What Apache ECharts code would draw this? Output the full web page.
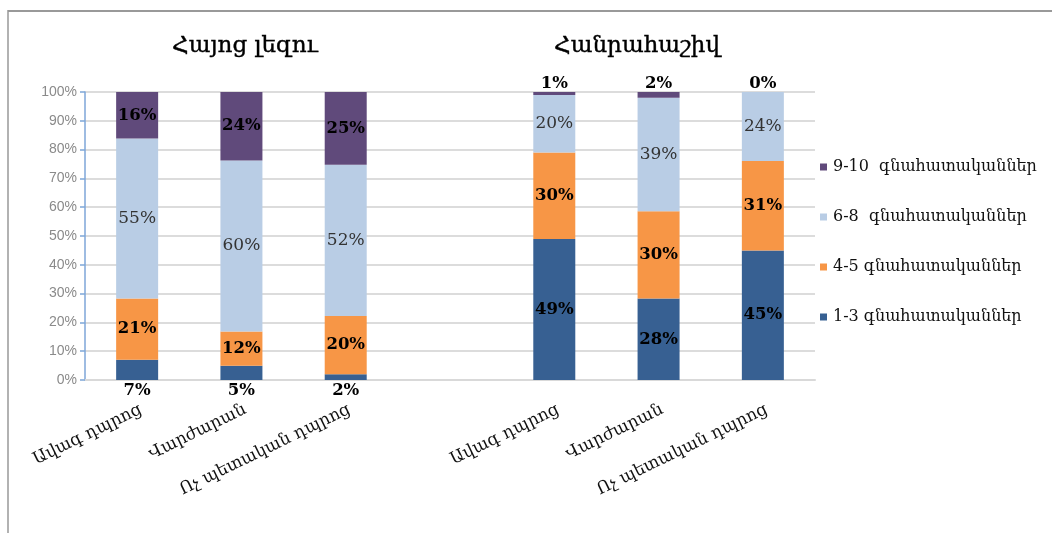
<!DOCTYPE html>
<html>
<head>
<meta charset="utf-8">
<script src="https://cdn.jsdelivr.net/npm/echarts@6/dist/echarts.min.js"></script>
<style>
html,body{margin:0;padding:0;background:#fff;}
#chart{width:1052px;height:533px;}
</style>
</head>
<body>
<div id="chart"></div>
<script>
const categories = ['Ավագ դպրոց', 'Վարժարան', 'Ոչ պետական դպրոց'];
const panelTitles = ['Հայոց լեզու', 'Հանրահաշիվ'];
const gradeNames = ['1-3 գնահատականներ', '4-5 գնահատականներ', '6-8  գնահատականներ', '9-10  գնահատականներ'];

// Հայոց լեզու (percent labels as shown)
const langGrade1to3 = [7, 5, 2];
const langGrade4to5 = [21, 12, 20];
const langGrade6to8 = [55, 60, 52];
const langGrade9to10 = [16, 24, 25];

// Հանրահաշիվ
const algGrade1to3 = [49, 28, 45];
const algGrade4to5 = [30, 30, 31];
const algGrade6to8 = [20, 39, 24];
const algGrade9to10 = [1, 2, 0];

const yTicks = [0, 10, 20, 30, 40, 50, 60, 70, 80, 90, 100];

const colors = ['#376092', '#F79646', '#B9CDE5', '#604A7B'];

const langSets = [langGrade1to3, langGrade4to5, langGrade6to8, langGrade9to10];
const algSets = [algGrade1to3, algGrade4to5, algGrade6to8, algGrade9to10];

function totals(sets) {
  return categories.map((_, i) => sets.reduce((s, a) => s + a[i], 0));
}
const langTot = totals(langSets);
const algTot = totals(algSets);

const xData = [...categories, '', ...categories];

const serif = 'DejaVu Serif';

const series = gradeNames.map((name, k) => {
  const data = [];
  langSets[k].forEach((v, i) => {
    const item = { value: v / langTot[i] * 100, raw: v };
    if (k === 0) item.label = { position: 'bottom', distance: 2 };
    data.push(item);
  });
  data.push(null);
  algSets[k].forEach((v, i) => {
    const item = { value: v / algTot[i] * 100, raw: v };
    if (k === 3) item.label = { position: 'top', distance: 0 };
    data.push(item);
  });
  const light = k === 2;
  return {
    name: name,
    type: 'bar',
    stack: 'total',
    barWidth: 42,
    itemStyle: { color: colors[k] },
    label: {
      show: true,
      position: 'inside',
      formatter: p => p.data.raw + '%',
      fontFamily: serif,
      fontSize: light ? 17 : 16.5,
      fontWeight: light ? 'normal' : 'bold',
      color: light ? '#333' : '#000'
    },
    data: data
  };
});

const chart = echarts.init(document.getElementById('chart'), null, { renderer: 'canvas' });
chart.setOption({
  animation: false,
  backgroundColor: '#fff',
  title: [
    { text: panelTitles[0], left: 240, top: 30, textAlign: 'center',
      textStyle: { fontFamily: serif, fontSize: 23, fontWeight: 'normal', color: '#000', textBorderColor: '#000', textBorderWidth: 0.4 } },
    { text: panelTitles[1], left: 632, top: 30, textAlign: 'center',
      textStyle: { fontFamily: serif, fontSize: 23, fontWeight: 'normal', color: '#000', textBorderColor: '#000', textBorderWidth: 0.4 } }
  ],
  legend: {
    orient: 'vertical',
    left: 815,
    top: 153,
    itemWidth: 7,
    itemHeight: 7,
    itemGap: 32,
    icon: 'rect',
    data: gradeNames.slice().reverse(),
    textStyle: { fontFamily: serif, fontSize: 16, color: '#111', lineHeight: 18, padding: [0, 0, 0, 1] }
  },
  grid: { left: 85, right: 237, top: 92, bottom: 153, containLabel: false },
  xAxis: {
    type: 'category',
    data: xData,
    axisLine: { show: true, lineStyle: { color: '#d9d9d9', width: 2 } },
    axisTick: { show: false },
    axisLabel: { interval: 0, rotate: 26, margin: 21, align: 'right', verticalAlign: 'top', fontFamily: serif, fontSize: 17, color: '#111' }
  },
  yAxis: {
    type: 'value',
    min: 0,
    max: 100,
    interval: 10,
    axisLine: { show: true, lineStyle: { color: '#7ea6d8', width: 1.5 } },
    axisTick: { show: true, length: 5, lineStyle: { color: '#7ea6d8', width: 1.5 } },
    axisLabel: { formatter: v => (yTicks.includes(v) ? v + '%' : ''), fontFamily: 'Liberation Sans', fontSize: 14, color: '#8a8a8a', margin: 8 },
    splitLine: { show: true, lineStyle: { color: '#dcdcdc', width: 2 } }
  },
  graphic: [
    { type: 'line', shape: { x1: 8, y1: 11, x2: 1052, y2: 11 }, style: { stroke: '#999', lineWidth: 2 } },
    { type: 'line', shape: { x1: 8, y1: 10, x2: 8, y2: 533 }, style: { stroke: '#999', lineWidth: 1.5 } }
  ],
  series: series
});
</script>
</body>
</html>
